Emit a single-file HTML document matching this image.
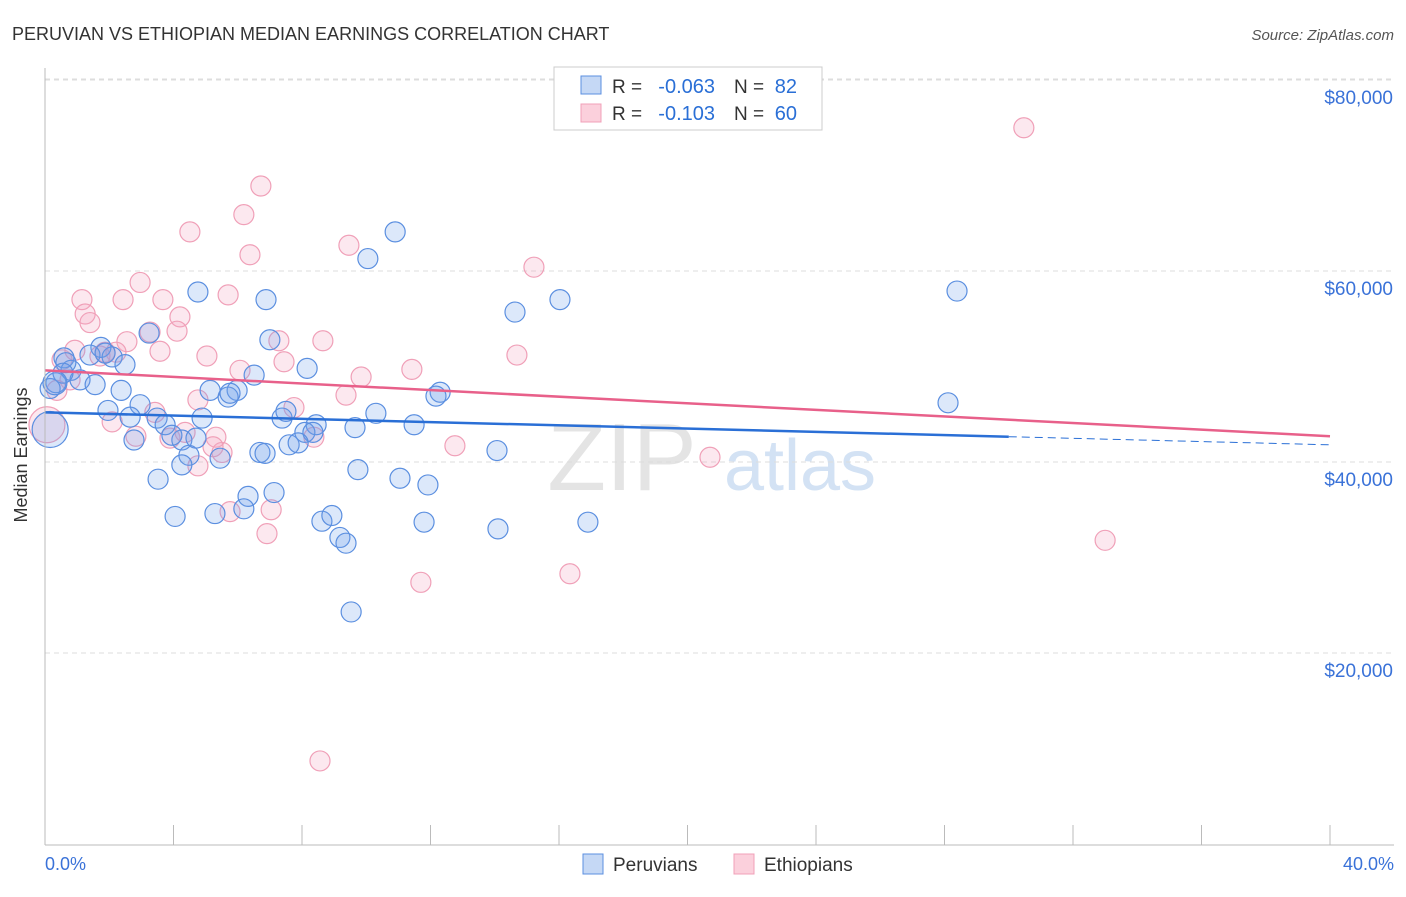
<!DOCTYPE html>
<html><head><meta charset="utf-8"><style>
body{margin:0;background:#fff;font-family:"Liberation Sans",sans-serif;}
svg text{font-family:"Liberation Sans",sans-serif;}
</style></head><body>
<svg id="c" width="1406" height="892">
<text x="12" y="40" font-size="18" fill="#333">PERUVIAN VS ETHIOPIAN MEDIAN EARNINGS CORRELATION CHART</text>
<text x="1394" y="40" font-size="15" fill="#555" font-style="italic" text-anchor="end">Source: ZipAtlas.com</text>
<text x="622" y="490" font-size="96" fill="#e4e4e4" font-family="Liberation Serif" text-anchor="middle">ZIP</text>
<text x="800" y="490" font-size="72" fill="#d3e2f4" text-anchor="middle">atlas</text>
<g id="grid"></g><g id="pts"></g><g id="trend"></g>
<line x1="45" y1="68" x2="45" y2="845" stroke="#bbb"/>
<line x1="45" y1="845" x2="1394" y2="845" stroke="#bbb"/>
<text x="27" y="455" font-size="18" fill="#333" text-anchor="middle" transform="rotate(-90 27 455)">Median Earnings</text>
<text x="45" y="870" font-size="18" fill="#3a72d8">0.0%</text>
<text x="1394" y="870" font-size="18" fill="#3a72d8" text-anchor="end">40.0%</text>
<g>
<rect x="554" y="67" width="268" height="63" fill="#fff" stroke="#ccc"/>
<rect x="581" y="76" width="20" height="18" fill="#c5d8f5" stroke="#5b8fe0"/>
<rect x="581" y="104" width="20" height="18" fill="#fbd0dc" stroke="#f0a0b8"/>
<text x="612" y="93" font-size="19" fill="#333">R =</text>
<text x="715" y="93" font-size="20" fill="#2a6fd6" text-anchor="end">-0.063</text>
<text x="734" y="93" font-size="19" fill="#333">N =</text>
<text x="797" y="93" font-size="20" fill="#2a6fd6" text-anchor="end">82</text>
<text x="612" y="120" font-size="19" fill="#333">R =</text>
<text x="715" y="120" font-size="20" fill="#2a6fd6" text-anchor="end">-0.103</text>
<text x="734" y="120" font-size="19" fill="#333">N =</text>
<text x="797" y="120" font-size="20" fill="#2a6fd6" text-anchor="end">60</text>
</g>
<g>
<rect x="583" y="854" width="20" height="20" fill="#c5d8f5" stroke="#5b8fe0"/>
<text x="613" y="871" font-size="19" fill="#333">Peruvians</text>
<rect x="734" y="854" width="20" height="20" fill="#fbd0dc" stroke="#f0a0b8"/>
<text x="764" y="871" font-size="19" fill="#333">Ethiopians</text>
</g>
</svg>
<script>
const yTicks=[20000,40000,60000,80000];
const yTickLabels=["$20,000","$40,000","$60,000","$80,000"];
const xTicks=[0,4,8,12,16,20,24,28,32,36,40];
const peruX=[10.9,10.05,4.76,6.88,16.03,14.63,28.39,3.24,7.0,1.74,1.4,2.09,0.59,2.49,0.81,1.09,1.56,0.34,0.16,2.37,5.14,5.98,6.51,8.16,5.7,12.3,12.17,1.96,2.96,2.65,3.49,3.74,4.89,7.38,7.5,10.3,11.49,8.44,9.65,28.11,4.26,4.7,2.77,3.95,8.09,8.34,7.6,7.88,6.69,6.85,4.48,5.45,14.07,3.52,4.26,9.74,11.05,11.92,6.32,7.13,6.19,4.05,5.29,8.62,8.93,11.8,14.1,16.9,9.18,9.37,9.53,0.65,1.87,0.56,5.76,0.16,0.31];
const peruY=[64.1,61.3,57.8,57.0,57.0,55.7,57.9,53.5,52.8,52.0,51.2,51.0,50.9,50.2,49.6,48.6,48.1,48.3,47.7,47.5,47.5,47.5,49.1,49.8,46.8,47.3,46.9,45.4,46.0,44.7,44.6,43.9,44.6,44.6,45.3,45.1,43.9,43.9,43.6,46.2,42.3,42.5,42.3,42.8,43.1,43.1,41.8,42.0,41.0,40.9,40.7,40.4,41.2,38.2,39.7,39.2,38.3,37.6,36.4,36.8,35.1,34.3,34.6,33.8,34.4,33.7,33.0,33.7,32.1,31.5,24.3,50.4,51.4,49.3,47.2,43.4,48.3];
const peruSize=[1,1,1,1,1,1,1,1,1,1,1,1,1,1,1,1,1,1,1,1,1,1,1,1,1,1,1,1,1,1,1,1,1,1,1,1,1,1,1,1,1,1,1,1,1,1,1,1,1,1,1,1,1,1,1,1,1,1,1,1,1,1,1,1,1,1,1,1,1,1,1,1,1,1,1,3,2];
const ethX=[30.47,6.72,6.19,4.51,6.38,9.46,15.22,2.96,1.15,2.43,3.67,5.7,1.25,1.4,4.2,4.11,3.27,2.55,7.28,8.65,1.71,3.58,5.04,6.07,7.44,11.42,14.69,9.84,9.37,0.53,0.93,1.87,2.21,0.78,0.37,4.76,7.75,3.42,2.09,2.83,3.89,4.36,5.32,5.51,5.23,8.37,12.76,20.7,4.76,5.76,7.04,6.91,11.7,16.34,33.0,8.56,0.06];
const ethY=[75.0,68.9,65.9,64.1,61.7,62.7,60.4,58.8,57.0,57.0,57.0,57.5,55.5,54.6,55.2,53.7,53.6,52.6,52.7,52.7,51.1,51.6,51.1,49.6,50.5,49.7,51.2,48.9,47.0,50.7,51.7,51.5,51.5,48.6,47.5,46.5,45.7,45.2,44.2,42.7,42.5,43.1,42.6,41.0,41.6,42.6,41.7,40.5,39.6,34.8,35.0,32.5,27.4,28.3,31.8,8.7,43.9];
const ethSize=[1,1,1,1,1,1,1,1,1,1,1,1,1,1,1,1,1,1,1,1,1,1,1,1,1,1,1,1,1,1,1,1,1,1,1,1,1,1,1,1,1,1,1,1,1,1,1,1,1,1,1,1,1,1,1,1,3];
const peruTrend=[45.2,41.8];
const ethTrend=[49.6,42.7];
const NS="http://www.w3.org/2000/svg";
const xs=v=>45+v/40*1285;
const ys=v=>844-v/20000*191;
const mk=(p,t,a)=>{const e=document.createElementNS(NS,t);for(const k in a)e.setAttribute(k,a[k]);p.appendChild(e);return e;};
const grid=document.getElementById('grid');
yTicks.forEach((t,i)=>{
 const l=mk(grid,'line',{x1:45,x2:1394,y1:ys(t),y2:ys(t),stroke:'#ddd','stroke-dasharray':'5,4'});
 
 
 const tx=mk(grid,'text',{x:1393,y:ys(t)+24,'font-size':19,fill:'#3a72d8','text-anchor':'end'});
 tx.textContent=yTickLabels[i];
 
 
});
mk(grid,'line',{x1:45,x2:1394,y1:79,y2:79,stroke:'#ddd','stroke-dasharray':'5,4'});
xTicks.forEach(t=>{
 const l=mk(grid,'line',{x1:xs(t),x2:xs(t),y1:825,y2:845,stroke:'#bbb'});
 
 
});
const pts=document.getElementById('pts');
const rad=[0,10,12,18];
ethX.forEach((x,i)=>{
 const c=mk(pts,'circle',{cx:xs(x),cy:ys(ethY[i]*1000),r:rad[ethSize[i]],fill:'rgba(245,165,190,0.25)',stroke:'#f0a0b8','stroke-width':1.2});
 
 
});
peruX.forEach((x,i)=>{
 const c=mk(pts,'circle',{cx:xs(x),cy:ys(peruY[i]*1000),r:rad[peruSize[i]],fill:'rgba(110,160,235,0.24)',stroke:'#5b8fe0','stroke-width':1.2});
 
 
});
const tr=document.getElementById('trend');
const pv=x=>peruTrend[0]+(peruTrend[1]-peruTrend[0])*x/40;
let l1=mk(tr,'line',{x1:xs(0),y1:ys(pv(0)*1000),x2:xs(30),y2:ys(pv(30)*1000),stroke:'#2a6fd6','stroke-width':2.5});


let l2=mk(tr,'line',{x1:xs(30),y1:ys(pv(30)*1000),x2:xs(40),y2:ys(pv(40)*1000),stroke:'#2a6fd6','stroke-width':1,'stroke-dasharray':'8,5'});


let l3=mk(tr,'line',{x1:xs(0),y1:ys(ethTrend[0]*1000),x2:xs(40),y2:ys(ethTrend[1]*1000),stroke:'#e8608a','stroke-width':2.5});


</script>
</body></html>
